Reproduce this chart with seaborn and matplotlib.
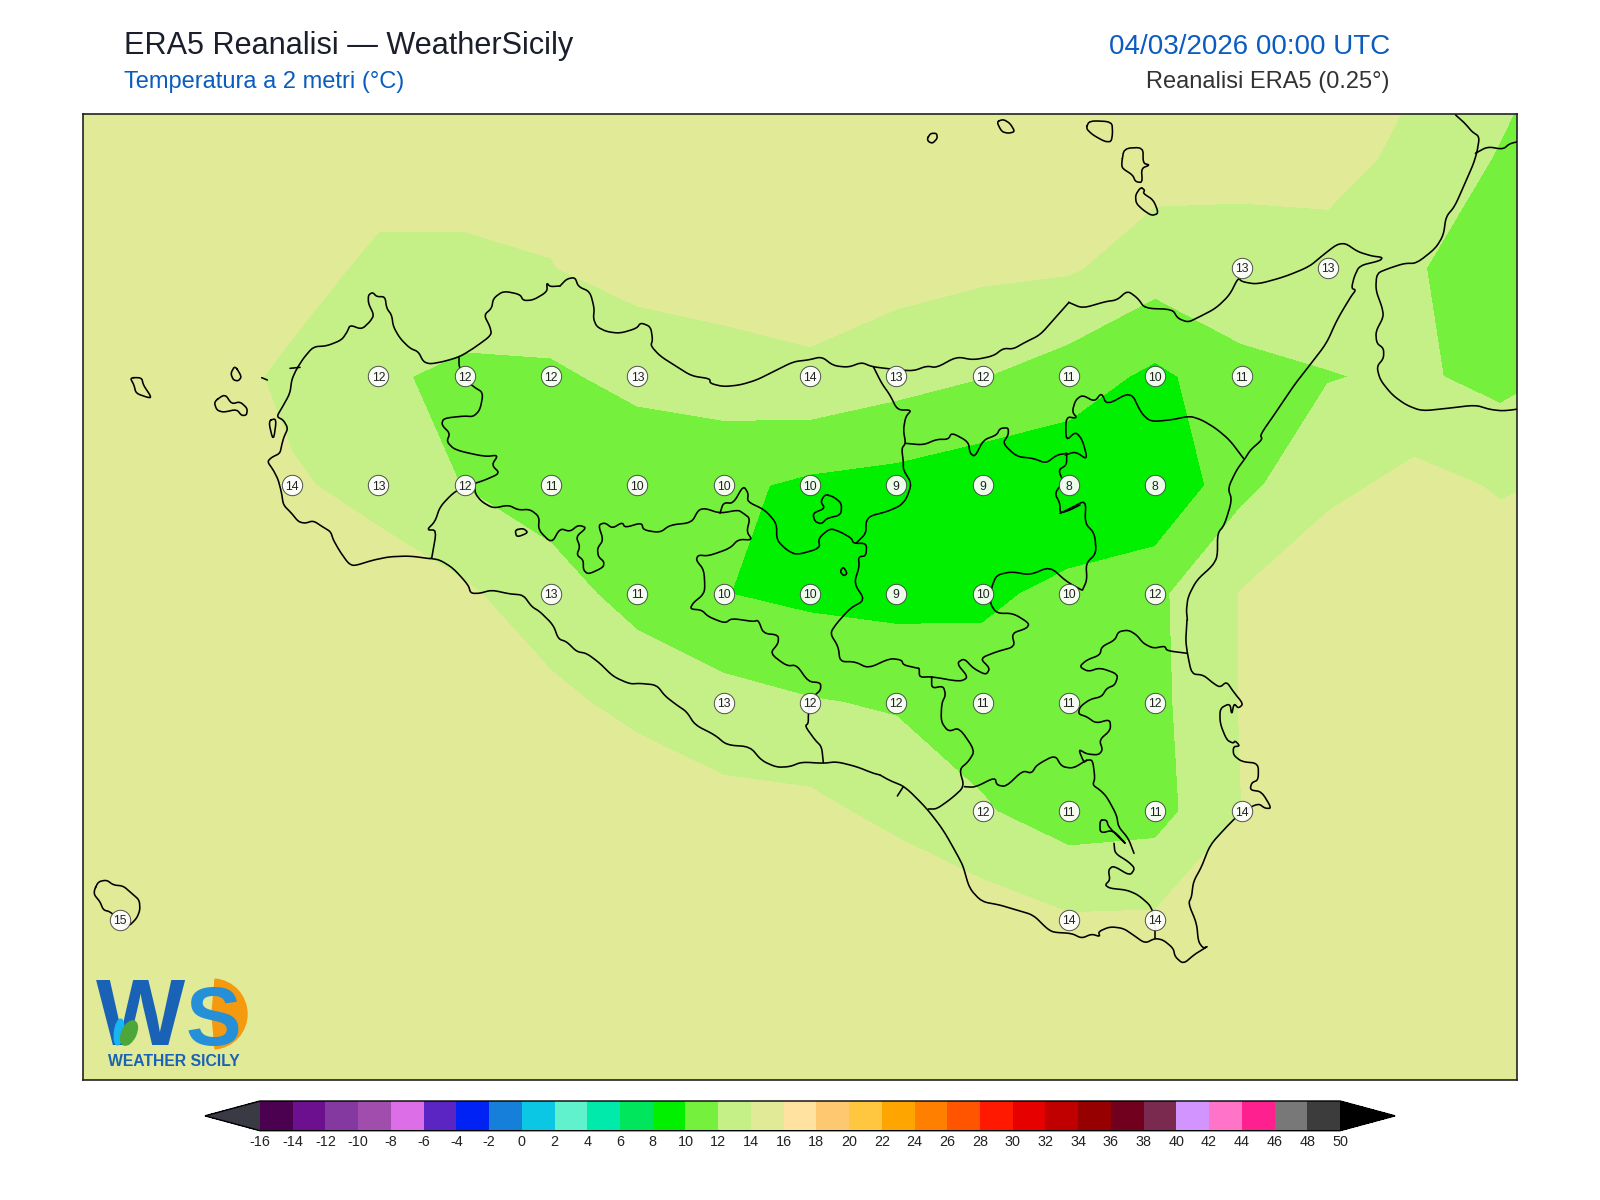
import numpy as np
import matplotlib
matplotlib.use("Agg")
import matplotlib.pyplot as plt
from matplotlib.colors import ListedColormap, BoundaryNorm
from matplotlib.patches import Ellipse, Wedge
import pandas as pd
import seaborn as sns

# ---------- field (ERA5 grid, 0.25 deg) ----------
LONS = [11.75, 12.0, 12.25, 12.5, 12.75, 13.0, 13.25, 13.5, 13.75, 14.0, 14.25, 14.5, 14.75, 15.0, 15.25, 15.5, 15.75, 16.0, 16.25]
LATS = [38.75, 38.5, 38.25, 38.0, 37.75, 37.5, 37.25, 37.0, 36.75, 36.5, 36.25]
R3875 = [15.5,15.5,15.5,15.5,15.6,15.6,15.5,15.5,15.6,15.7,15.7,15.6,15.5,15.5,15.4,15.3,14.2,13.0,11.0]
R3850 = [15.5,15.5,15.5,15.5,15.4,14.8,14.5,15.0,15.4,15.5,15.5,15.3,15.0,14.81,14.19,14.48,13.64,11.8,10.5]
R3825 = [15.5,15.5,15.5,15.3,13.3,13.6,13.95,14.72,15.05,15.16,14.75,14.4,14.22,12.94,13.72,13.44,12.1,11.4,10.5]
R3800 = [15.5,15.5,15.4,13.3,12.3,11.53,11.6,12.67,13.05,13.56,12.77,12.05,11.03,9.55,11.25,11.9,12.31,11.39,12.52]
R3775 = [15.5,15.5,15.3,14.3,13.2,11.93,11.08,10.2,10.45,9.6,9.27,8.65,8.46,7.97,11.49,13.46,14.58,13.83,14.28]
R3750 = [15.5,15.5,15.4,15.4,15.3,14.29,12.8,11.29,10.04,9.55,9.3,9.65,10.46,11.57,14.1,15.66,15.5,15.06,15.0]
R3725 = [15.6,15.6,15.6,15.5,15.5,15.4,14.5,13.4,12.72,12.13,11.8,10.95,11.1,11.46,14.1,15.0,15.3,15.3,15.2]
R3700 = [15.7,15.7,15.7,15.6,15.6,15.6,15.5,15.5,14.63,14.53,13.4,12.2,10.96,11.24,13.99,15.0,15.4,15.4,15.3]
R3675 = [15.8,15.8,15.8,15.7,15.7,15.7,15.7,15.7,15.6,15.6,15.9,15.06,14.22,14.28,15.0,15.5,15.5,15.5,15.4]
R3650 = [15.8,15.8,15.8,15.8,15.8,15.8,15.8,15.8,15.8,15.8,15.8,15.7,15.7,15.7,15.7,15.7,15.7,15.7,15.7]
R3625 = [15.8,15.8,15.8,15.8,15.8,15.8,15.8,15.8,15.8,15.8,15.8,15.8,15.8,15.8,15.8,15.8,15.8,15.8,15.8]
FIELD_ROWS = [R3875, R3850, R3825, R3800, R3775, R3750, R3725, R3700, R3675, R3650, R3625]

# ---------- labelled grid points ----------
LABEL_LAT = [38.25]*2 + [38.0]*10 + [37.75]*11 + [37.5]*8 + [37.25]*6 + [37.0]*4 + [36.75]*3
LABEL_LON = [15.25,15.5,
             12.75,13.0,13.25,13.5,14.0,14.25,14.5,14.75,15.0,15.25,
             12.5,12.75,13.0,13.25,13.5,13.75,14.0,14.25,14.5,14.75,15.0,
             13.25,13.5,13.75,14.0,14.25,14.5,14.75,15.0,
             13.75,14.0,14.25,14.5,14.75,15.0,
             14.5,14.75,15.0,15.25,
             12.0,14.75,15.0]
LABEL_VAL = [13,13,
             12,12,12,13,14,13,12,11,10,11,
             14,13,12,11,10,10,10,9,9,8,8,
             13,11,10,10,9,10,10,12,
             13,12,12,11,11,12,
             12,11,11,14,
             15,14,14]

# ---------- colour scale ----------
LEVELS = list(range(-16, 52, 2))
COLORS = ["#4B0050","#6C1090","#8339A0","#A04DAE","#DC6FE8","#5A25C2","#0022F5","#157FD9",
          "#0BC7E3","#5FF2CC","#00EAAB","#00E65C","#00F000","#75F03C","#C5EF87","#E1EA96",
          "#FFE1A0","#FDC870","#FFC740","#FFA500","#FF8000","#FF5500","#FF1900","#E60000",
          "#C00000","#960000","#70001E","#7B2A4F","#D295FF","#FF73C8","#FF2090","#787878","#3C3C3C"]
UNDER_COLOR = "#3A3A44"
OVER_COLOR = "#000000"

# ---------- map outlines, (crop x, crop y, x scale), points ----------
C1 = (60, 100, 3.0); C2 = (560, 100, 3.0); C3 = (1060, 100, 2.889)
C4 = (400, 480, 3.0); C5 = (880, 560, 3.0); C6 = (60, 860, 3.0)

COAST_WEST = [(1110,1376),(1050,1368),(990,1370),(940,1380),(882,1398),(865,1390),(840,1355),(820,1320),(812,1295),(790,1282),(760,1262),(735,1270),(715,1265),(695,1240),(670,1215),(665,1180),(655,1140),(640,1110),(622,1085),(635,1072),(660,1060),(665,1035),(672,1010),(684,985),(670,960),(650,950),(665,925),(690,880),(695,840),(708,810),(730,775),(760,740),(800,738),(845,720),(862,695),(870,675),(905,688),(930,665),(942,645),(925,610),(925,585),(938,577),(950,590),(975,590),(980,625),(995,645),(1000,680),(1020,715),(1050,745),(1075,755),(1090,785),(1110,792),(1150,785),(1200,770),(1245,742),(1295,705),(1290,680),(1272,645),(1295,625),(1300,595),(1330,573),(1380,583),(1390,602),(1420,600),(1462,575),(1460,548),(1470,560),(1500,558)]
COAST_NORTH = [(0,558),(20,537),(45,532),(55,560),(90,575),(103,625),(100,655),(110,680),(140,695),(180,700),(230,685),(242,668),(272,680),(278,720),(272,737),(300,768),(350,800),(395,828),(450,836),(450,850),(490,860),(540,855),(590,840),(640,815),(700,785),(745,780),(785,770),(820,797),(865,802),(905,787),(935,800),(1000,808),(1060,813),(1100,798),(1130,803),(1190,770),(1240,780),(1300,768),(1330,745),(1360,747),(1395,727),(1440,705),(1480,660),(1527,607)]
COAST_NE = [(25,607),(65,625),(130,605),(165,600),(195,572),(225,595),(245,625),(325,628),(340,655),(370,667),(400,652),(450,625),(490,585),(515,533),(525,545),(570,553),(650,530),(720,500),(760,465),(800,433),(825,430),(860,455),(900,468),(932,472),(925,482),(865,497),(850,530),(842,565),(855,570),(840,590),(800,660),(770,730),(722,795),(680,850),(625,935),(578,1005),(585,1018),(550,1050),(535,1075),(510,1110),(485,1165),(497,1200),(475,1275),(455,1300),(455,1370),(440,1398),(395,1440),(370,1490),(365,1530),(368,1560)]
COAST_SE = [(921,180),(917,240),(922,280),(935,342),(970,345),(1000,370),(1020,382),(1040,365),(1060,395),(1090,432),(1075,445),(1062,430),(1055,465),(1050,430),(1020,445),(1020,490),(1040,540),(1060,550),(1065,542),(1080,558),(1060,560),(1060,585),(1085,605),(1135,610),(1135,660),(1115,668),(1110,690),(1145,695),(1175,745),(1155,745),(1135,730),(1085,755),(1040,800),(990,855),(965,920),(940,965),(935,1010),(925,1030),(950,1090),(955,1145),(970,1165),(985,1158),(945,1182),(910,1212),(885,1190),(880,1165),(850,1140),(825,1135),(795,1150),(760,1125),(730,1105),(690,1100),(655,1115),(660,1130),(635,1122),(605,1135),(575,1120),(520,1117),(500,1105),(460,1065),(410,1050),(360,1035),(305,1025),(268,985),(250,920),(235,890),(190,810),(140,745),(75,680),(30,662),(0,645)]
COAST_SOUTH = [(1440,885),(1420,880),(1370,860),(1310,845),(1270,850),(1205,846),(1170,860),(1130,862),(1085,842),(1050,800),(980,795),(945,765),(885,735),(860,695),(830,675),(795,648),(770,615),(720,610),(690,612),(640,590),(600,550),(560,520),(530,515),(500,485),(475,477),(460,435),(420,395),(395,380),(370,345),(330,342),(275,330),(240,340),(212,340),(205,315),(160,265),(120,240),(90,235)]
CALABRIA = [(1143,45),(1170,70),(1190,95),(1212,110),(1205,155),(1195,190),(1170,250),(1140,320),(1115,350),(1108,405),(1085,445),(1030,490),(995,490),(950,505),(915,520),(912,570),(930,620),(935,650),(912,695),(915,730),(935,745),(935,775),(915,800),(925,840),(960,885),(1000,915),(1045,933),(1120,925),(1200,915),(1240,928),(1280,933),(1340,925)]
CALABRIA_B = [(1200,160),(1235,140),(1280,148),(1300,130),(1340,122)]

TRAPANI = [(1197,770),(1197,800),(1215,835),(1240,860),(1270,878),(1260,930),(1240,950),(1212,948),(1150,955),(1145,975),(1170,1000),(1160,1025),(1185,1050),(1275,1070),(1315,1065),(1295,1095),(1320,1120),(1275,1140),(1245,1150),(1215,1160),(1180,1178),(1140,1220),(1125,1265),(1100,1290),(1130,1290),(1115,1375)]
AGRIGENTO_N = [(225,10),(225,40),(245,65),(280,85),(325,75),(355,90),(390,88),(418,110),(415,150),(455,190),(480,145),(510,155),(535,135),(560,143),(528,170),(540,200),(530,225),(550,240),(550,270),(565,283),(610,262),(612,245),(595,230),(592,205),(610,180),(595,135),(615,128),(637,145),(667,127),(675,143),(725,128),(730,150),(780,158),(810,135),(875,128),(895,90),(915,85),(960,100),(1015,90),(1030,100),(1050,115),(1040,155),(1057,180),(1015,178),(990,205),(925,228),(895,225),(888,240),(912,270),(915,330),(905,348),(880,368),(870,387),(905,390),(925,410),(975,430),(995,415),(1060,425),(1075,420),(1090,460),(1135,465),(1135,490),(1110,520),(1160,558),(1190,555),(1225,605),(1262,608),(1262,630),(1245,645),(1230,665),(1225,700),(1225,730),(1215,738),(1245,780),(1265,800),(1270,848)]
ENNA_W = [(960,100),(970,68),(1000,70),(1030,17),(1045,40),(1042,65),(1095,90),(1130,130),(1130,180),(1160,210),(1190,225),(1260,205),(1255,175),(1290,145),(1320,155),(1355,175),(1360,190),(1400,190),(1398,228),(1375,230),(1378,260),(1362,310),(1395,360),(1350,385),(1310,430),(1290,460),(1315,500),(1320,545),(1365,545),(1405,565),(1470,535),(1505,540),(1510,555),(1555,565)]
ENNA_N = [(940,800),(965,850),(990,885),(1012,930),(1055,930),(1037,950),(1030,990),(1037,1030),(1025,1045),(1030,1085),(1030,1110),(1055,1150),(1040,1195),(1020,1218),(980,1235),(930,1248),(918,1265),(918,1300),(890,1328)]
MESSINA_S1 = [(1037,1030),(1090,1035),(1130,1018),(1165,1018),(1175,998),(1225,1025),(1230,1060),(1245,1070),(1270,1020),(1310,1005),(1320,985),(1345,983),(1345,1005),(1328,1030),(1370,1070),(1420,1075),(1458,1090),(1490,1065),(1520,1060)]
MESSINA_S2 = [(530,1075),(490,1020),(450,985),(410,960),(375,948),(320,960),(262,965),(235,940),(205,875),(135,915),(120,878),(100,905),(65,885),(45,900),(35,935),(50,955),(17,950),(17,1023),(45,995),(65,1020),(80,1080),(45,1055),(15,1065)]
CATANIA_W1 = [(1520,1060),(1520,1095),(1495,1110),(1510,1145),(1484,1180),(1500,1210),(1500,1240),(1530,1230),(1560,1215)]
CATANIA_W2 = [(0,1240),(30,1225),(75,1200),(72,1270),(100,1300),(105,1360),(75,1390),(78,1440),(65,1470)]
CATANIA_W3 = [(605,90),(560,65),(510,20),(450,45),(395,35),(350,45),(335,80),(330,130),(350,160),(400,160),(448,190),(440,205),(395,220),(405,260),(350,275),(300,295),(330,325),(318,345),(280,325),(252,295),(230,310),(265,352),(240,365),(155,350),(118,352),(118,325),(114,325)]
GELA_E = [(155,350),(155,385),(190,378),(197,405),(185,430),(183,485),(205,515),(238,503),(285,572),(265,605),(238,628),(253,680),(215,715),(170,747),(145,747)]
RAGUSA_N = [(253,680),(285,682),(345,652),(350,675),(378,680),(428,632),(455,640),(470,615),(525,585),(545,620),(580,625),(620,600),(638,600),(645,655),(638,675),(660,690),(680,710),(710,765),(715,800),(745,835),(762,880)]
LENTINI = [(660,780),(680,780),(685,800),(745,860),(700,810),(660,820),(660,780)]
RAGUSA_E = [(702,850),(705,880),(745,905),(765,925),(750,947),(700,917),(685,930),(690,960),(675,975),(690,985),(740,990),(775,1005),(815,1040),(825,1095),(825,1135)]
SIRACUSA_N = [(922,280),(860,272),(855,258),(820,265),(790,250),(770,225),(745,210),(715,215),(705,240),(665,260),(660,285),(620,300),(598,320),(625,335),(660,323),(715,343),(705,375),(680,385),(665,410),(630,418),(600,440),(595,462),(620,470),(648,490),(690,478),(692,510),(658,540),(668,570),(655,585),(620,582),(595,567),(612,608),(620,600)]
TICK_GELA = [(52,708),(70,680)]

MARETTIMO = [(210,833),(245,833),(250,855),(270,885),(272,893),(262,892),(228,880),(222,855),(210,833)]
FAVIGNANA = [(462,905),(495,882),(515,912),(540,905),(562,925),(560,945),(545,947),(530,928),(490,937),(470,930),(462,905)]
LEVANZO = [(525,797),(545,830),(535,843),(520,840),(512,820),(525,797)]
FORMICA = [(605,833),(622,840)]
TRAPANI_SALT = [(690,805),(720,802)]
STAGNONE = [(625,962),(650,955),(640,1025),(625,962)]
ARANCIO = [(345,150),(370,145),(385,158),(350,172),(345,150)]
POZZILLO = [(840,1415),(850,1400),(862,1420),(852,1428),(840,1415)]
ENCLAVE = [(795,1183),(820,1190),(845,1210),(843,1245),(800,1255),(785,1272),(765,1265),(758,1240),(795,1225),(782,1205),(795,1183)]
ALICUDI = [(1102,115),(1112,100),(1130,100),(1132,115),(1118,130),(1105,125),(1102,115)]
FILICUDI = [(1310,65),(1330,58),(1350,70),(1365,95),(1345,100),(1325,95),(1310,65)]
SALINA = [(75,85),(85,62),(150,65),(152,100),(148,125),(130,125),(95,105),(75,85)]
LIPARI = [(178,190),(185,145),(240,142),(240,190),(260,195),(235,205),(238,248),(218,245),(210,225),(180,205),(178,190)]
VULCANO = [(233,262),(245,270),(240,280),(270,300),(285,340),(265,347),(240,330),(220,310),(218,285),(233,262)]
PANTELLERIA = [(103,90),(115,65),(140,60),(160,75),(190,78),(215,100),(238,120),(240,150),(230,175),(205,200),(178,180),(150,155),(130,150),(120,125),(103,105),(103,90)]

OUTLINES = [(C1,COAST_WEST),(C2,COAST_NORTH),(C3,COAST_NE),(C5,COAST_SE),(C4,COAST_SOUTH),(C3,CALABRIA),(C3,CALABRIA_B),
            (C1,TRAPANI),(C4,AGRIGENTO_N),(C4,ENNA_W),(C2,ENNA_N),(C2,MESSINA_S1),(C3,MESSINA_S2),(C2,CATANIA_W1),(C3,CATANIA_W2),
            (C5,CATANIA_W3),(C5,GELA_E),(C5,RAGUSA_N),(C5,LENTINI),(C5,RAGUSA_E),(C5,SIRACUSA_N),(C5,TICK_GELA),
            (C1,MARETTIMO),(C1,FAVIGNANA),(C1,LEVANZO),(C1,FORMICA),(C1,TRAPANI_SALT),(C1,STAGNONE),(C4,ARANCIO),(C2,POZZILLO),(C2,ENCLAVE),
            (C2,ALICUDI),(C2,FILICUDI),(C3,SALINA),(C3,LIPARI),(C3,VULCANO),(C6,PANTELLERIA)]

TITLE = "ERA5 Reanalisi \u2014 WeatherSicily"
SUBTITLE = "Temperatura a 2 metri (\u00b0C)"
DATE_TEXT = "04/03/2026 00:00 UTC"
SOURCE_TEXT = "Reanalisi ERA5 (0.25\u00b0)"

# ---------- helpers: picture position -> lon/lat ----------
W, H = 1600, 1200
AX_L, AX_R, AX_T, AX_B = 83.0, 1517.0, 114.0, 1080.0
def to_lon(px): return 12.0 + (px - 119.6) / 86.3 * 0.25
def to_lat(py): return 36.75 + (920.0 - py) / 108.7 * 0.25
def round_corners(a, passes=2, r=0.2):
    # corner cutting, ends kept, so the traced outline reads as a curve
    for _ in range(passes):
        if len(a) < 4:
            break
        p, q = a[:-1], a[1:]
        cut = np.empty((2 * len(p), 2))
        cut[0::2] = (1 - r) * p + r * q
        cut[1::2] = r * p + (1 - r) * q
        closed = np.allclose(a[0], a[-1])
        a = np.vstack([cut, cut[0]]) if closed else np.vstack([a[0], cut, a[-1]])
    return a
def outline(crop, pts):
    x0, y0, sx = crop
    a = np.array(pts, float)
    a = np.column_stack([x0 + a[:, 0] / sx, y0 + a[:, 1] / 3.0])
    a = round_corners(a)
    return to_lon(a[:, 0]), to_lat(a[:, 1])

sns.set_theme(style="white")
plt.rcParams["font.family"] = ["Liberation Sans", "DejaVu Sans"]
fig = plt.figure(figsize=(16, 12), dpi=100, facecolor="white")
ax = fig.add_axes([AX_L / W, 1 - AX_B / H, (AX_R - AX_L) / W, (AX_B - AX_T) / H])

cmap = ListedColormap(COLORS)
cmap.set_under(UNDER_COLOR)
cmap.set_over(OVER_COLOR)
norm = BoundaryNorm(LEVELS, cmap.N)

cf = ax.contourf(np.array(LONS), np.array(LATS), np.array(FIELD_ROWS), levels=LEVELS, cmap=cmap, norm=norm,
                 extend="both", antialiased=False)

for crop, pts in OUTLINES:
    lo, la = outline(crop, pts)
    ax.plot(lo, la, color="black", lw=1.15, solid_joinstyle="round", zorder=3)

stations = pd.DataFrame({"lon": LABEL_LON, "lat": LABEL_LAT, "t": LABEL_VAL})
sns.scatterplot(data=stations, x="lon", y="lat", ax=ax, s=215, color="white", edgecolor="#444444",
                linewidth=0.7, alpha=0.93, zorder=4, legend=False)
for lo, la, v in zip(LABEL_LON, LABEL_LAT, LABEL_VAL):
    ax.text(lo, la, str(v), ha="center", va="center_baseline", fontsize=8.8, color="#222222", zorder=5)

ax.set_xlim(to_lon(AX_L), to_lon(AX_R))
ax.set_ylim(to_lat(AX_B), to_lat(AX_T))
ax.set_xlabel(""); ax.set_ylabel("")
ax.set_xticks([]); ax.set_yticks([])
for s in ax.spines.values():
    s.set_visible(True); s.set_color("#222222"); s.set_linewidth(1.2)

# colour bar
cax = fig.add_axes([205 / W, 1 - 1130.7 / H, (1395 - 205) / W, 29.7 / H])
cb = fig.colorbar(cf, cax=cax, orientation="horizontal", extend="both", extendfrac=55 / 1080.5,
                  spacing="uniform", ticks=LEVELS, drawedges=False)
cb.ax.tick_params(length=0, pad=3, labelsize=10.4, colors="#222222")
cb.set_ticklabels([str(v) for v in LEVELS])
cb.outline.set_edgecolor("black"); cb.outline.set_linewidth(1.0)

# headers
def ftext(px, py, s, **kw):
    fig.text(px / W, 1 - py / H, s, va="baseline", **kw)
ftext(124, 54, TITLE, fontsize=22.05, color="#1A1F2B")
ftext(124, 88, SUBTITLE, fontsize=17.0, color="#0A5CBF")
ftext(1390, 54, DATE_TEXT, fontsize=20, color="#0A5CBF", ha="right")
ftext(1390, 88, SOURCE_TEXT, fontsize=17.0, color="#333333", ha="right")

# logo
logo = fig.add_axes([0, 0, 1, 1], facecolor="none")
logo.set_xlim(0, W); logo.set_ylim(H, 0); logo.axis("off"); logo.set_zorder(6)
logo.add_patch(Wedge((212, 1014), 35, -85, 85, color="#F59A0E", zorder=1))
logo.text(96, 1045, "W", fontsize=68, fontweight="bold", color="#1A62B5", va="baseline", zorder=2)
logo.text(186, 1045, "S", fontsize=60, fontweight="bold", color="#2590D8", va="baseline", zorder=3)
logo.add_patch(Ellipse((119, 1032), 9, 26, angle=8, color="#18B5F0", zorder=4))
logo.add_patch(Ellipse((129, 1033), 14, 26, angle=25, color="#4CA63A", zorder=5))
logo.text(108, 1066, "WEATHER SICILY", fontsize=11.3, fontweight="bold", color="#1A62B5", va="baseline", zorder=3)

fig.savefig("out.png", dpi=100, facecolor="white")
